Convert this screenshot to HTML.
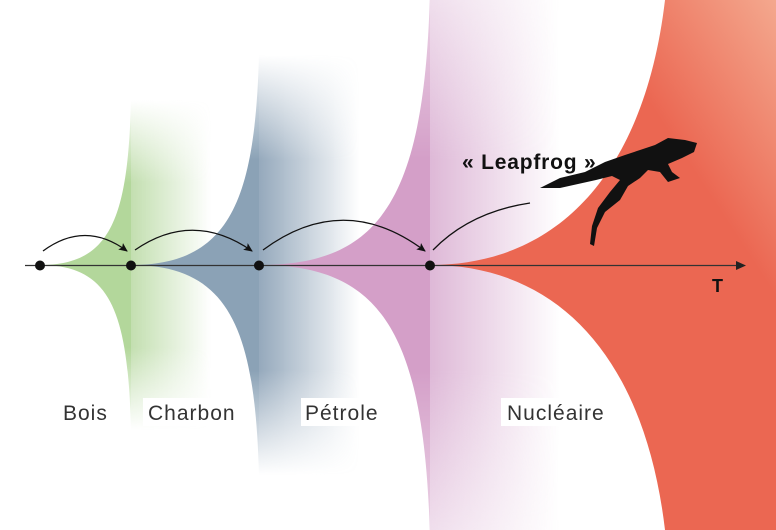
<!DOCTYPE html>
<html><head><meta charset="utf-8"><style>
body{margin:0;background:#fff;}
svg{display:block}
text{font-family:"Liberation Sans",sans-serif;}
</style></head><body>
<svg width="776" height="530" viewBox="0 0 776 530" xmlns="http://www.w3.org/2000/svg">
<defs>
<linearGradient id="vf" x1="0" y1="0" x2="0" y2="1">
<stop offset="0" stop-color="#000"/><stop offset="0.25" stop-color="#fff"/><stop offset="0.75" stop-color="#fff"/><stop offset="1" stop-color="#000"/>
</linearGradient>
<linearGradient id="vf2" x1="0" y1="0" x2="0" y2="1">
<stop offset="0" stop-color="#777"/><stop offset="0.3" stop-color="#fff"/><stop offset="0.7" stop-color="#fff"/><stop offset="1" stop-color="#777"/>
</linearGradient>
<mask id="mg" maskUnits="userSpaceOnUse" x="0" y="0" width="776" height="530"><rect x="0" y="100" width="776" height="330" fill="url(#vf)"/></mask>
<mask id="mb" maskUnits="userSpaceOnUse" x="0" y="0" width="776" height="530"><rect x="0" y="55" width="776" height="420" fill="url(#vf)"/></mask>
<mask id="mp" maskUnits="userSpaceOnUse" x="0" y="0" width="776" height="530"><rect x="0" y="0" width="776" height="530" fill="url(#vf2)"/></mask>
<linearGradient id="tg" x1="0" y1="0" x2="1" y2="0"><stop offset="0" stop-color="#a9d18e" stop-opacity="0.7"/><stop offset="1" stop-color="#a9d18e" stop-opacity="0"/></linearGradient>
<linearGradient id="tb" x1="0" y1="0" x2="1" y2="0"><stop offset="0" stop-color="#7a93ab" stop-opacity="0.8"/><stop offset="1" stop-color="#7a93ab" stop-opacity="0"/></linearGradient>
<linearGradient id="tp" x1="0" y1="0" x2="1" y2="0"><stop offset="0" stop-color="#d09ac6" stop-opacity="0.7"/><stop offset="1" stop-color="#d09ac6" stop-opacity="0"/></linearGradient>
<linearGradient id="rg" x1="0" y1="1" x2="1" y2="0"><stop offset="0.72" stop-color="#eb6752"/><stop offset="1" stop-color="#f4a88e"/></linearGradient>
<marker id="ah" markerWidth="10" markerHeight="10" refX="8" refY="5" orient="auto" markerUnits="userSpaceOnUse"><path d="M0,1 L9,5 L0,9 L2,5Z" fill="#111"/></marker>
</defs>
<g mask="url(#mg)">
<rect x="131" y="100" width="80" height="330" fill="url(#tg)"/>
<path d="M40,265 C110,265 128,220 131,100 L131,430 C128,310 110,265 40,265Z" fill="#b3d79b"/>
</g>
<g mask="url(#mb)">
<rect x="259" y="55" width="100" height="420" fill="url(#tb)"/>
<path d="M131,265 C230,265 255,200 259,55 L259,475 C255,330 230,265 131,265Z" fill="#8ba2b6"/>
</g>
<g mask="url(#mp)">
<rect x="430" y="0" width="130" height="530" fill="url(#tp)"/>
<path d="M259,265 C380,265 425,200 430,-10 L430,540 C425,330 380,265 259,265Z" fill="#d49fc8"/>
</g>
<path d="M430,265 C560,265 645,170 665,0 L776,0 L776,530 L665,530 C645,360 560,265 430,265Z" fill="url(#rg)"/>
<line x1="25" y1="265.5" x2="738" y2="265.5" stroke="#333" stroke-width="1.3"/>
<path d="M736,261 L746,265.5 L736,270Z" fill="#222"/>
<g fill="#111"><circle cx="40" cy="265.5" r="5"/><circle cx="131" cy="265.5" r="5"/><circle cx="259" cy="265.5" r="5"/><circle cx="430" cy="265.5" r="5"/></g>
<g fill="none" stroke="#111" stroke-width="1.3">
<path d="M43,251 Q85,220 127,251" marker-end="url(#ah)"/>
<path d="M135,250 Q193,210 252,251" marker-end="url(#ah)"/>
<path d="M263,250 Q344,190 425,251" marker-end="url(#ah)"/>
<path d="M433,250 Q470,212 530,203"/>
</g>
<text x="462" y="169" font-size="21" font-weight="bold" fill="#111" letter-spacing="0.8">« Leapfrog »</text>
<text x="712" y="292" font-size="18" font-weight="bold" fill="#111">T</text>
<path d="M540,188 L560,178 L585,172 L605,162 L625,155 L640,150 L655,145 L668,138 L685,140 L697,143 L694,152 L682,158 L668,164 L672,172 L680,178 L668,182 L660,172 L648,170 L640,178 L628,186 L620,200 L605,212 L597,228 L594,246 L590,244 L592,226 L598,208 L610,192 L620,180 L612,176 L596,180 L578,184 L560,188 Z" fill="#111"/>
<g font-size="21" fill="#333" letter-spacing="1">
<text x="63" y="420">Bois</text>
<rect x="143" y="398" width="100" height="28" fill="#fff"/>
<text x="148" y="420">Charbon</text>
<rect x="301" y="398" width="86" height="28" fill="#fff"/>
<text x="305" y="420">Pétrole</text>
<rect x="501" y="398" width="112" height="28" fill="#fff"/>
<text x="507" y="420">Nucléaire</text>
</g>
</svg>
</body></html>
